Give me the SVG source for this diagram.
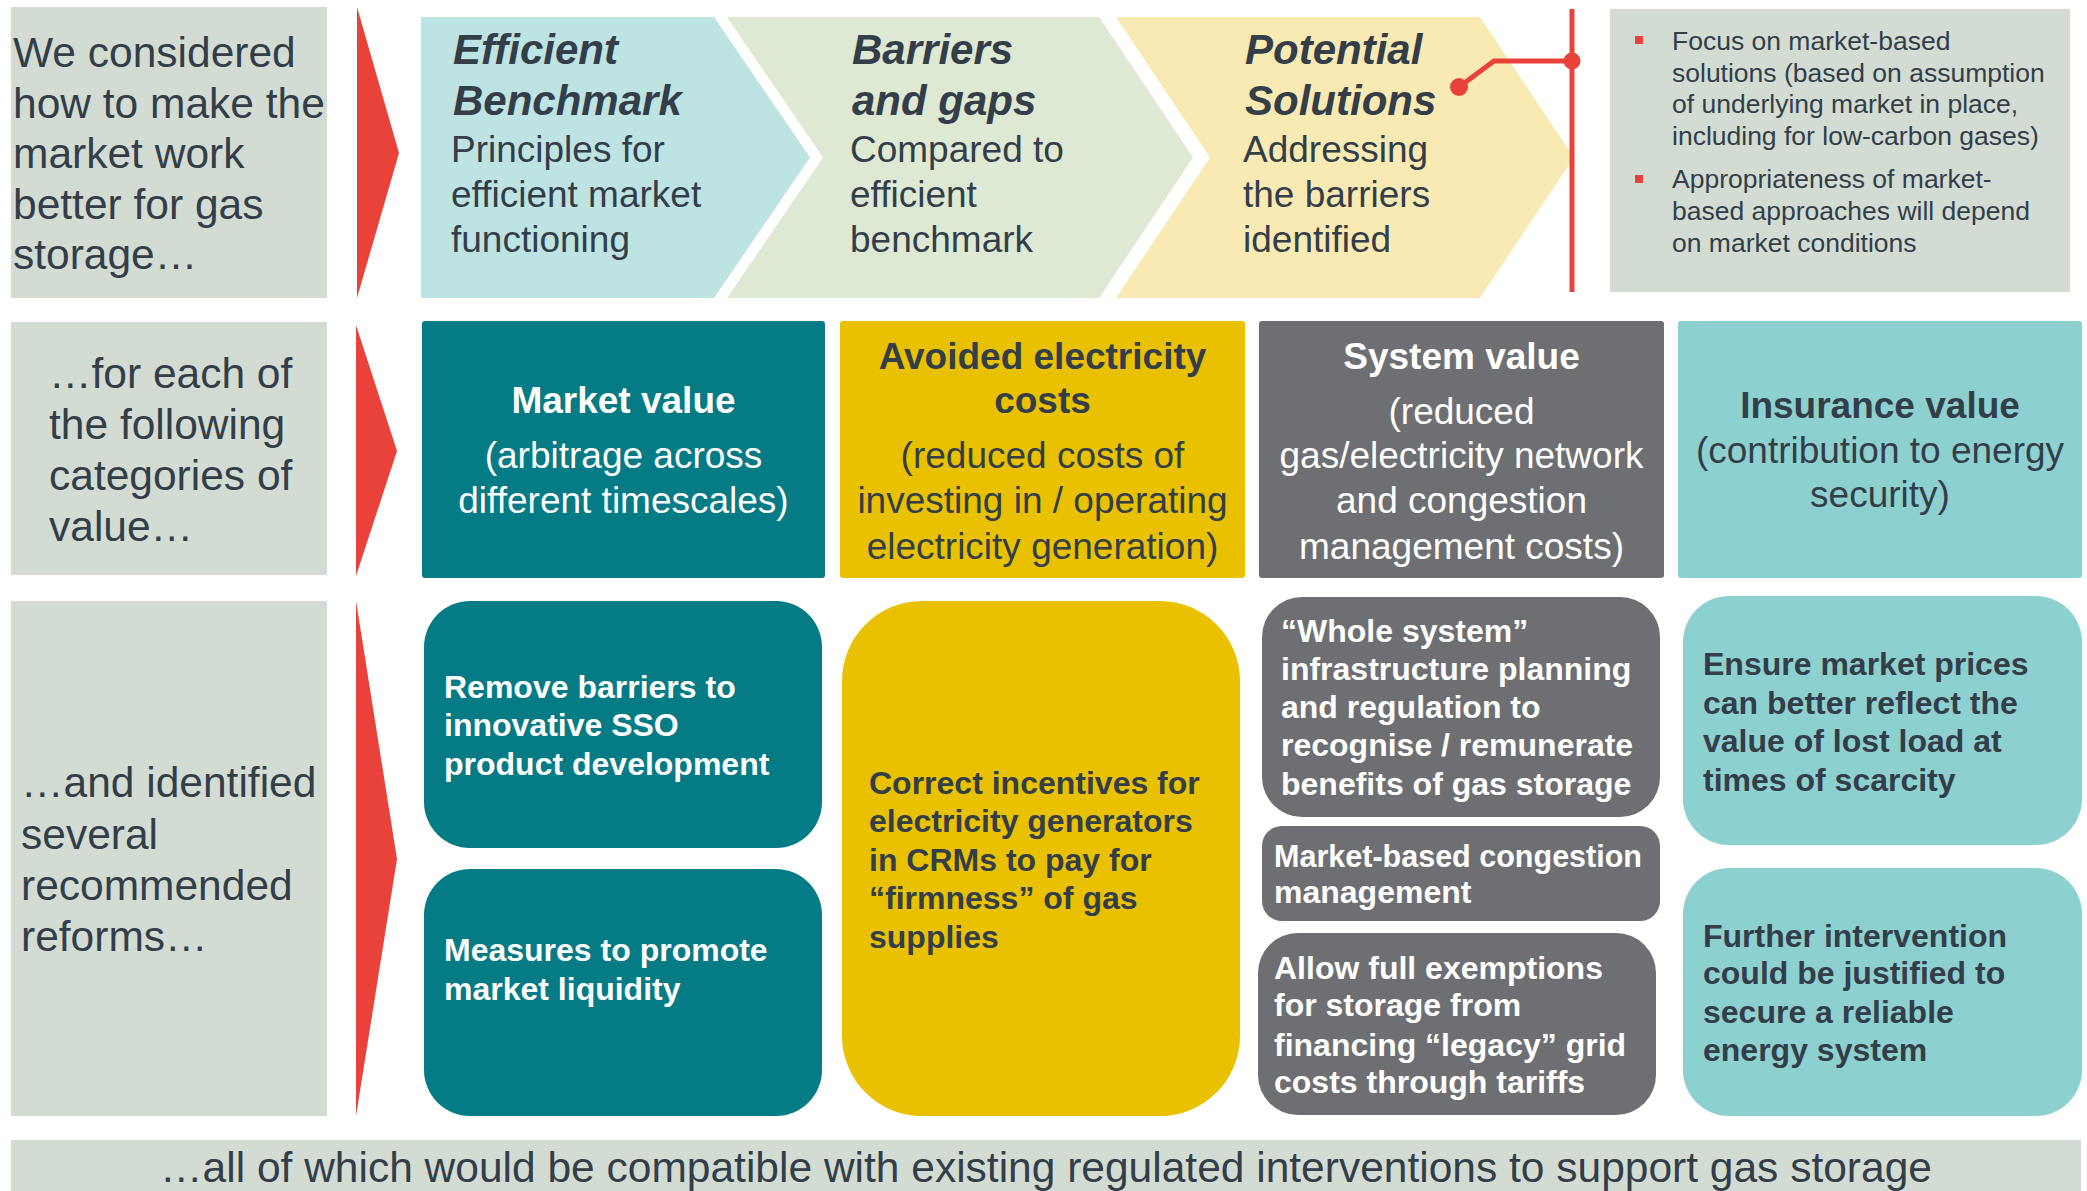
<svg xmlns="http://www.w3.org/2000/svg" width="2087" height="1191" viewBox="0 0 2087 1191">
  <style>
    text { font-family: "Liberation Sans", Arial, sans-serif; }
    .panel { fill: #d2dcd3; }
    .lead { font-size: 42.5px; fill: #333e48; }
    .arrow { fill: #e8423a; }
    .stepTitle { font-size: 42px; font-weight: bold; font-style: italic; fill: #333e48; }
    .stepBody { font-size: 37px; fill: #333e48; }
    .note { font-size: 26.5px; fill: #333e48; }
    .catTitle { font-size: 37px; font-weight: bold; text-anchor: middle; }
    .catBody { font-size: 37px; text-anchor: middle; }
    .reform { font-size: 32px; font-weight: bold; }
    .light { fill: #ffffff; }
    .dark { fill: #333e48; }
    .teal { fill: #047b85; }
    .gold { fill: #e9c100; }
    .grey { fill: #6e6f73; }
    .aqua { fill: #8dd0d0; }
  </style>

  <!-- Row labels -->
  <g id="label-approach">
    <rect class="panel" x="11" y="7" width="316" height="291"/>
    <text class="lead" x="13" y="67">We considered</text>
    <text class="lead" x="13" y="117.5">how to make the</text>
    <text class="lead" x="13" y="168">market work</text>
    <text class="lead" x="13" y="218.5">better for gas</text>
    <text class="lead" x="13" y="269">storage…</text>
  </g>
  <g id="label-categories">
    <rect class="panel" x="11" y="322" width="316" height="253"/>
    <text class="lead" x="49" y="388">…for each of</text>
    <text class="lead" x="49" y="439">the following</text>
    <text class="lead" x="49" y="490">categories of</text>
    <text class="lead" x="49" y="541">value…</text>
  </g>
  <g id="label-reforms">
    <rect class="panel" x="11" y="601" width="316" height="515"/>
    <text class="lead" x="21" y="797">…and identified</text>
    <text class="lead" x="21" y="849">several</text>
    <text class="lead" x="21" y="900">recommended</text>
    <text class="lead" x="21" y="951">reforms…</text>
  </g>

  <!-- Flow arrows between label column and content -->
  <g id="flow-arrows">
    <polygon class="arrow" points="357,7 399,153 357,298"/>
    <polygon class="arrow" points="356,325 397,451 356,576"/>
    <polygon class="arrow" points="356,601 397,859 356,1116"/>
  </g>

  <!-- Process chevrons -->
  <g id="step-benchmark">
    <polygon points="421,17 714,17 810,157.5 714,298 421,298" fill="#bde3e3"/>
    <text class="stepTitle" x="453" y="64">Efficient</text>
    <text class="stepTitle" x="453" y="115">Benchmark</text>
    <text class="stepBody" x="451" y="162">Principles for</text>
    <text class="stepBody" x="451" y="207">efficient market</text>
    <text class="stepBody" x="451" y="252">functioning</text>
  </g>
  <g id="step-barriers">
    <polygon points="727,17 1099,17 1193,157.5 1099,298 727,298 823,157.5" fill="#dde9d3"/>
    <text class="stepTitle" x="852" y="64">Barriers</text>
    <text class="stepTitle" x="852" y="115">and gaps</text>
    <text class="stepBody" x="850" y="162">Compared to</text>
    <text class="stepBody" x="850" y="207">efficient</text>
    <text class="stepBody" x="850" y="252">benchmark</text>
  </g>
  <g id="step-solutions">
    <polygon points="1116,17 1480,17 1574,157.5 1480,298 1116,298 1210,157.5" fill="#f8eab2"/>
    <text class="stepTitle" x="1245" y="64">Potential</text>
    <text class="stepTitle" x="1245" y="115">Solutions</text>
    <text class="stepBody" x="1243" y="162">Addressing</text>
    <text class="stepBody" x="1243" y="207">the barriers</text>
    <text class="stepBody" x="1243" y="252">identified</text>
  </g>

  <!-- Notes on the solution approach -->
  <g id="solution-notes">
    <rect class="panel" x="1610" y="9" width="460" height="283"/>
    <rect x="1635" y="36" width="8" height="8" fill="#e8423a"/>
    <text class="note" x="1672" y="50">Focus on market-based</text>
    <text class="note" x="1672" y="82">solutions (based on assumption</text>
    <text class="note" x="1672" y="113">of underlying market in place,</text>
    <text class="note" x="1672" y="145">including for low-carbon gases)</text>
    <rect x="1635" y="175" width="8" height="8" fill="#e8423a"/>
    <text class="note" x="1672" y="188">Appropriateness of market-</text>
    <text class="note" x="1672" y="220">based approaches will depend</text>
    <text class="note" x="1672" y="252">on market conditions</text>
  </g>

  <!-- Categories of value -->
  <g id="cat-market">
    <rect class="teal" x="422" y="321" width="403" height="257" rx="3"/>
    <text class="catTitle light" x="623.5" y="413">Market value</text>
    <text class="catBody light" x="623.5" y="468">(arbitrage across</text>
    <text class="catBody light" x="623.5" y="513">different timescales)</text>
  </g>
  <g id="cat-avoided">
    <rect class="gold" x="840" y="321" width="405" height="257" rx="3"/>
    <text class="catTitle dark" x="1042.5" y="369">Avoided electricity</text>
    <text class="catTitle dark" x="1042.5" y="413">costs</text>
    <text class="catBody dark" x="1042.5" y="468">(reduced costs of</text>
    <text class="catBody dark" x="1042.5" y="513">investing in / operating</text>
    <text class="catBody dark" x="1042.5" y="559">electricity generation)</text>
  </g>
  <g id="cat-system">
    <rect class="grey" x="1259" y="321" width="405" height="257" rx="3"/>
    <text class="catTitle light" x="1461.5" y="369">System value</text>
    <text class="catBody light" x="1461.5" y="424">(reduced</text>
    <text class="catBody light" x="1461.5" y="468">gas/electricity network</text>
    <text class="catBody light" x="1461.5" y="513">and congestion</text>
    <text class="catBody light" x="1461.5" y="559">management costs)</text>
  </g>
  <g id="cat-insurance">
    <rect class="aqua" x="1678" y="321" width="404" height="257" rx="3"/>
    <text class="catTitle dark" x="1880" y="418">Insurance value</text>
    <text class="catBody dark" x="1880" y="463">(contribution to energy</text>
    <text class="catBody dark" x="1880" y="507">security)</text>
  </g>

  <!-- Recommended reforms -->
  <g id="reform-sso">
    <rect class="teal" x="424" y="601" width="398" height="247" rx="46"/>
    <text class="reform light" x="444" y="698">Remove barriers to</text>
    <text class="reform light" x="444" y="736">innovative SSO</text>
    <text class="reform light" x="444" y="775">product development</text>
  </g>
  <g id="reform-liquidity">
    <rect class="teal" x="424" y="869" width="398" height="247" rx="46"/>
    <text class="reform light" x="444" y="961">Measures to promote</text>
    <text class="reform light" x="444" y="1000">market liquidity</text>
  </g>
  <g id="reform-crm">
    <rect class="gold" x="842" y="601" width="398" height="515" rx="80"/>
    <text class="reform dark" x="869" y="794">Correct incentives for</text>
    <text class="reform dark" x="869" y="832">electricity generators</text>
    <text class="reform dark" x="869" y="871">in CRMs to pay for</text>
    <text class="reform dark" x="869" y="909">“firmness” of gas</text>
    <text class="reform dark" x="869" y="948">supplies</text>
  </g>
  <g id="reform-whole-system">
    <rect class="grey" x="1262" y="597" width="398" height="220" rx="40"/>
    <text class="reform light" x="1281" y="642">“Whole system”</text>
    <text class="reform light" x="1281" y="680">infrastructure planning</text>
    <text class="reform light" x="1281" y="718">and regulation to</text>
    <text class="reform light" x="1281" y="756">recognise / remunerate</text>
    <text class="reform light" x="1281" y="795">benefits of gas storage</text>
  </g>
  <g id="reform-congestion">
    <rect class="grey" x="1262" y="826" width="398" height="95" rx="20"/>
    <text class="reform light" x="1274" y="867" textLength="368" lengthAdjust="spacingAndGlyphs">Market-based congestion</text>
    <text class="reform light" x="1274" y="903">management</text>
  </g>
  <g id="reform-exemptions">
    <rect class="grey" x="1258" y="933" width="398" height="182" rx="40"/>
    <text class="reform light" x="1274" y="979">Allow full exemptions</text>
    <text class="reform light" x="1274" y="1016">for storage from</text>
    <text class="reform light" x="1274" y="1056">financing “legacy” grid</text>
    <text class="reform light" x="1274" y="1093">costs through tariffs</text>
  </g>
  <g id="reform-prices">
    <rect class="aqua" x="1683" y="596" width="399" height="249" rx="46"/>
    <text class="reform dark" x="1703" y="675">Ensure market prices</text>
    <text class="reform dark" x="1703" y="714">can better reflect the</text>
    <text class="reform dark" x="1703" y="752">value of lost load at</text>
    <text class="reform dark" x="1703" y="791">times of scarcity</text>
  </g>
  <g id="reform-intervention">
    <rect class="aqua" x="1683" y="868" width="399" height="248" rx="46"/>
    <text class="reform dark" x="1703" y="947">Further intervention</text>
    <text class="reform dark" x="1703" y="984">could be justified to</text>
    <text class="reform dark" x="1703" y="1023">secure a reliable</text>
    <text class="reform dark" x="1703" y="1061">energy system</text>
  </g>

  <!-- Closing statement -->
  <g id="conclusion">
    <rect class="panel" x="11" y="1140" width="2070" height="51"/>
    <text class="lead" x="1046" y="1182" text-anchor="middle" font-size="42">…all of which would be compatible with existing regulated interventions to support gas storage</text>
  </g>

  <!-- Bracket linking the solutions step to its notes -->
  <g id="connectors" stroke="#e8423a" stroke-width="5" fill="none">
    <line x1="1572" y1="9" x2="1572" y2="292"/>
    <polyline points="1459,87 1494,61 1572,61"/>
    <circle cx="1572" cy="61" r="8.5" fill="#e8423a" stroke="none"/>
    <circle cx="1459" cy="87" r="9" fill="#e8423a" stroke="none"/>
  </g>
</svg>
